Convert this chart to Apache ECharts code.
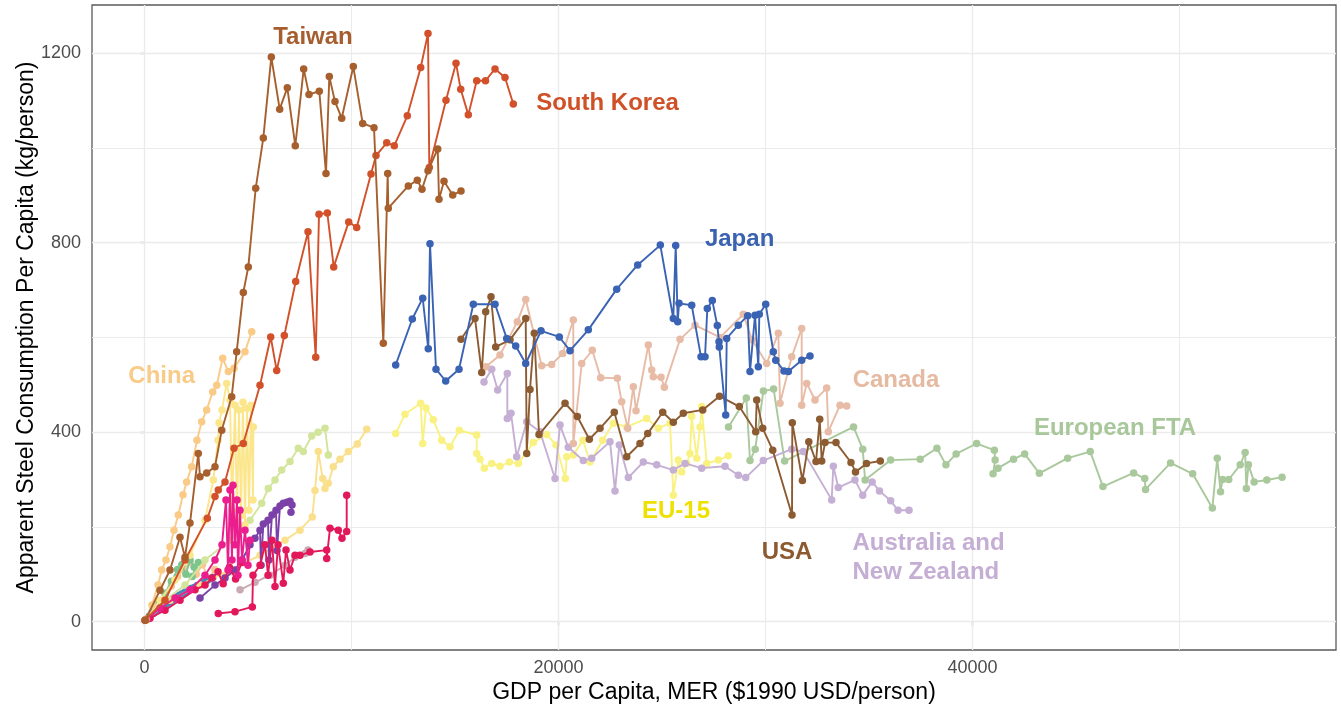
<!DOCTYPE html>
<html>
<head>
<meta charset="utf-8">
<title>Apparent Steel Consumption vs GDP per Capita</title>
<script src="https://cdn.jsdelivr.net/npm/echarts@6/dist/echarts.min.js"></script>
<style>
  html, body { margin: 0; padding: 0; background: #ffffff; }
  #chart { width: 1341px; height: 706px; }
</style>
</head>
<body>
<div id="chart"></div>
<script>
// GDP per capita (1990 USD) vs apparent steel use (kg/person), one array per region
const taiwan = [[30,3],[749,66],[1232,109],[1715,178],[1957,136],[2198,208],[2599,355],[2681,306],[3005,314],[3406,327],[3730,404],[4213,475],[4454,570],[4773,695],[5015,749],[5372,915],[5739,1021],[6126,1192],[6531,1082],[6899,1127],[7285,1005],[7691,1167],[7947,1113],[8445,1120],[8768,946],[8928,1151],[9203,1098],[9527,1063],[10087,1172],[10541,1052],[11087,1043],[11537,588],[11749,946],[11778,873],[12744,920],[13179,932],[13406,913],[13696,952],[14165,998],[14227,892],[14469,930],[14889,901],[15290,909]];

const southKorea = [[24,3],[990,45],[1957,130],[3034,218],[3406,264],[3565,278],[3889,295],[4324,366],[4773,376],[5580,499],[6097,601],[6387,530],[6754,604],[7305,718],[7899,823],[8271,558],[8430,860],[8831,863],[9140,749],[9865,844],[10251,832],[10942,945],[11184,984],[11701,1011],[12068,1005],[12696,1068],[13343,1170],[13696,1242],[13759,959],[14565,1101],[15049,1179],[15276,1124],[15643,1070],[16049,1142],[16474,1142],[16933,1167],[17416,1149],[17817,1093]];

const japan = [[12135,542],[12937,639],[13440,683],[13710,576],[13792,798],[14082,533],[14551,508],[15194,533],[15884,670],[16933,670],[17498,598],[17933,582],[18416,545],[19155,614],[20039,601],[20556,572],[21440,616],[22812,702],[23826,753],[24918,795],[25546,640],[25662,794],[25759,633],[25822,672],[26435,668],[26885,559],[27078,559],[27189,661],[27430,678],[27672,625],[27754,591],[27768,580],[28078,436],[28126,598],[28686,626],[29141,646],[29252,528],[29494,647],[29653,538],[29701,649],[30010,670],[30377,570],[30493,552],[30894,529],[31102,528],[31749,552],[32150,561]];

const usa = [[15290,596],[15966,640],[16290,526],[16483,654],[16739,686],[16966,580],[17657,595],[18416,640],[18464,355],[18624,490],[18831,609],[19059,395],[20315,461],[20909,433],[21489,385],[22006,408],[22696,442],[23295,348],[23938,376],[24310,397],[25034,442],[25546,421],[26030,440],[26967,447],[27778,476],[28735,454],[29527,401],[29576,468],[29866,408],[30349,362],[31281,225],[31295,420],[31783,298],[32092,380],[32440,338],[32619,427],[32715,339],[32875,378],[33406,378],[34131,336],[34348,316],[34880,334],[35546,339]];

const canada = [[16498,538],[17174,563],[18010,633],[18416,680],[19189,540],[19672,543],[20204,566],[20715,637],[20715,376],[21121,545],[21633,573],[22039,515],[22841,514],[23054,464],[23344,408],[23614,496],[23745,445],[24338,584],[24503,531],[24580,517],[24952,516],[25112,495],[25870,596],[26595,626],[27803,600],[28928,649],[29349,595],[30058,545],[30619,609],[30701,461],[31266,559],[31749,619],[31749,457],[31991,503],[32392,468],[32957,493],[33034,401],[33600,457],[33923,455]];

const ausNz = [[16401,506],[16773,533],[17063,489],[17527,524],[17527,429],[17706,440],[17981,348],[18464,422],[19107,401],[19832,302],[20073,415],[20474,368],[21198,340],[21604,345],[22488,380],[22730,276],[22938,373],[23372,304],[24097,337],[24744,331],[25546,320],[26111,334],[26918,324],[28044,328],[28686,309],[29044,304],[29894,340],[31266,364],[31826,359],[33198,257],[33276,328],[33517,283],[34320,299],[34697,267],[35151,295],[35508,276],[36045,255],[36402,235],[36933,235]];

const europeanFta = [[28213,411],[29073,472],[29252,340],[29503,364],[29899,487],[30392,491],[30924,339],[34252,411],[34697,364],[34812,299],[36045,341],[37470,343],[38282,366],[38717,331],[39209,354],[40200,376],[41055,362],[41094,341],[40993,312],[41234,324],[41983,343],[42519,354],[43229,313],[44596,345],[45688,359],[46301,285],[47784,314],[48320,302],[48359,279],[49567,335],[50635,312],[51586,240],[51823,345],[51982,274],[52079,300],[52379,300],[52934,331],[53171,357],[53229,281],[53330,331],[53606,295],[54219,299],[54954,305]];

const eu15 = [[12135,397],[12585,438],[13343,461],[13440,376],[13599,451],[13952,426],[14358,383],[14759,369],[15208,404],[16049,394],[16049,355],[16208,343],[16416,324],[16773,334],[17174,328],[17624,337],[18058,334],[18783,378],[19430,395],[19880,373],[20330,302],[20397,348],[20715,352],[21184,383],[21522,337],[22136,383],[22648,419],[23295,411],[24261,429],[24822,408],[25387,419],[25546,267],[25788,341],[25952,316],[26194,334],[26353,355],[26435,433],[26677,345],[26836,411],[26918,454],[27160,334],[27720,341],[28203,350]];

const china = [[72,5],[362,35],[652,77],[831,109],[1039,130],[1232,158],[1425,193],[1633,225],[1860,268],[2039,295],[2280,327],[2536,383],[2763,422],[3005,447],[3295,485],[3488,499],[3778,556],[4048,528],[4324,535],[4855,570],[5179,612]];

// unlabelled regions
const goldA = [[72,3],[749,45],[1473,88],[2198,140],[2923,214],[3324,299],[3551,383],[3600,420],[3744,447],[3971,503],[4131,468],[4227,235],[4372,457],[4469,214],[4565,447],[4662,224],[4758,463],[4855,204],[4952,450],[5048,235],[5145,457],[5242,257],[5260,411]];
const goldB = [[72,3],[1232,45],[2681,77],[4131,109],[5580,140],[6788,172],[7512,193],[8106,221],[8237,277],[8396,359],[8609,302],[8720,281],[8880,292],[9121,327],[9445,343],[9846,359],[10280,375],[10734,406]];
const paleGreen = [[72,3],[990,45],[1957,77],[2923,130],[4131,172],[5097,214],[5662,250],[5981,281],[6304,299],[6628,320],[7029,338],[7430,366],[7672,359],[8078,392],[8382,400],[8720,408],[8880,352]];
const peach = [[200,10],[600,30],[1000,55],[1300,75],[1600,95],[1900,110],[2200,125],[2500,100],[2800,120],[3100,90],[3400,110],[3800,95],[4200,105]];
const steelBlue = [[80,4],[250,12],[420,17],[600,24],[760,28],[900,33],[1050,37],[1200,41],[1350,46],[1500,50],[1650,55],[1800,58],[1950,62],[2100,66],[2250,70],[2400,72],[2550,76],[2700,78],[2850,83],[3000,86],[3150,90],[3300,93]];
const mint = [[150,6],[400,20],[700,40],[1000,60],[1300,85],[1600,110],[1800,120],[2000,100],[2200,130],[2400,115],[2600,125],[2300,95]];
const magenta = [[120,5],[749,28],[1473,50],[2198,67],[2923,98],[3406,130],[3744,162],[3937,257],[4034,109],[4131,278],[4227,130],[4276,288],[4372,162],[4469,257],[4517,98],[4614,235],[4710,130],[4855,193],[5000,119],[5097,172]];
const crimson = [[3565,17],[4372,21],[5208,31],[5242,98],[5580,119],[5822,162],[5967,98],[6160,172],[6304,74],[6450,162],[6706,81],[6836,151],[7029,109],[7271,140],[7512,140],[7995,147],[8802,151],[8802,133],[8961,197],[9363,193],[9541,176],[9768,190],[9768,267]];
const crimsonEarly = [[266,7],[990,24],[1715,45],[2440,67],[2923,77],[3261,92],[3551,105],[3800,80],[4100,115],[4400,90],[4700,125]];
const purple = [[2681,50],[3406,77],[3889,92],[4372,109],[4710,130],[5097,162],[5338,176],[5580,193],[5629,119],[5741,206],[5967,214],[6010,130],[6160,225],[6353,235],[6400,150],[6546,244],[6706,250],[6885,252],[7029,254],[7126,246],[7077,231]];
const mauve = [[4614,67],[5338,83],[6063,98],[6788,119],[7271,136],[7754,144],[7899,151]];

// axis ticks and gridlines
const xTicks = [0, 20000, 40000];
const xMinorGrid = [10000, 30000, 50000];
const yTicks = [0, 400, 800, 1200];
const yMinorGrid = [200, 600, 1000];

// region labels: [text, x, y, colour, align]
const regionLabels = [
  ['Taiwan', 8140, 1234, '#a65e2e', 'center'],
  ['South Korea', 22368, 1095, '#cf5127', 'center'],
  ['Japan', 28749, 808, '#3a62b0', 'center'],
  ['China', 831, 518, '#f9cb88', 'center'],
  ['Canada', 36305, 510, '#e6b9a1', 'center'],
  ['European FTA', 46885, 409, '#a8c79a', 'center'],
  ['EU-15', 25677, 233, '#eee000', 'center'],
  ['USA', 31039, 147, '#8b5a30', 'center'],
  ['Australia and\nNew Zealand', 34203, 135, '#c5aed3', 'left']
];

const regions = [
  [peach, '#f7c892'],
  [mint, '#7cc58f'],
  [steelBlue, '#4a87ba'],
  [goldB, '#fae08c'],
  [paleGreen, '#d3e59b'],
  [goldA, '#fce68c'],
  [mauve, '#c9aab3'],
  [purple, '#7b41a8'],
  [crimsonEarly, '#e2185b'],
  [crimson, '#e2185b'],
  [magenta, '#ea1e8c'],
  [china, '#f9cb87'],
  [eu15, '#f9f283'],
  [europeanFta, '#a9c89c'],
  [ausNz, '#c5afd4'],
  [canada, '#e7bba5'],
  [usa, '#8c5b32'],
  [japan, '#3b63b3'],
  [southKorea, '#d2512a'],
  [taiwan, '#a65f2d']
];

const chart = echarts.init(document.getElementById('chart'), null, { renderer: 'canvas' });

const gridColor = '#ebebeb';
const fontFamily = 'Liberation Sans, Arial, sans-serif';
const series = [];

// background grid drawn as mark lines
series.push({
  type: 'line',
  data: [],
  z: 1,
  silent: true,
  markLine: {
    silent: true,
    symbol: ['none', 'none'],
    label: { show: false },
    animation: false,
    data: [
      ...xTicks.map(v => ({ xAxis: v, lineStyle: { color: gridColor, width: 1.4, type: 'solid' } })),
      ...xMinorGrid.map(v => ({ xAxis: v, lineStyle: { color: gridColor, width: 1.1, type: 'solid' } })),
      ...yTicks.map(v => ({ yAxis: v, lineStyle: { color: gridColor, width: 1.4, type: 'solid' } })),
      ...yMinorGrid.map(v => ({ yAxis: v, lineStyle: { color: gridColor, width: 1.1, type: 'solid' } }))
    ]
  }
});

regions.forEach(([pts, color], i) => {
  series.push({
    type: 'line',
    data: pts,
    z: 3 + i,
    symbol: 'circle',
    symbolSize: 7.5,
    showSymbol: true,
    showAllSymbol: true,
    lineStyle: { color: color, width: 1.9 },
    itemStyle: { color: color },
    emphasis: { disabled: true },
    silent: true
  });
});

series.push({
  type: 'scatter',
  z: 50,
  symbolSize: 0,
  silent: true,
  itemStyle: { opacity: 1 },
  emphasis: { disabled: true },
  data: regionLabels.map(([text, x, y, color, align]) => ({
    value: [x, y],
    itemStyle: { opacity: 1 },
    label: {
      show: true,
      position: 'inside',
      formatter: text,
      color: color,
      opacity: 1,
      align: align,
      fontFamily: fontFamily,
      fontWeight: 'bold',
      fontSize: 24,
      lineHeight: 29
    }
  }))
});

chart.setOption({
  animation: false,
  backgroundColor: '#ffffff',
  grid: {
    left: 92, right: 5, top: 5, bottom: 56,
    outerBoundsMode: 'none',
    containLabel: false,
    show: true,
    borderColor: '#5a5a5a',
    borderWidth: 1.3,
    backgroundColor: '#ffffff'
  },
  xAxis: {
    type: 'value',
    min: -2536,
    max: 57560,
    name: 'GDP per Capita, MER ($1990 USD/person)',
    nameLocation: 'middle',
    nameGap: 31,
    nameMoveOverlap: false,
    nameTextStyle: { fontFamily: fontFamily, fontSize: 23, color: '#000000' },
    axisLine: { show: false },
    splitLine: { show: false },
    axisTick: { show: true, length: 4, lineStyle: { color: '#333333', width: 1.2 }, customValues: xTicks },
    axisLabel: { fontFamily: fontFamily, fontSize: 18, color: '#4d4d4d', margin: 9, customValues: xTicks, formatter: v => String(v) }
  },
  yAxis: {
    type: 'value',
    min: -60,
    max: 1302,
    name: 'Apparent Steel Consumption Per Capita (kg/person)',
    nameLocation: 'middle',
    nameGap: 54,
    nameMoveOverlap: false,
    nameTextStyle: { fontFamily: fontFamily, fontSize: 23, color: '#000000' },
    axisLine: { show: false },
    splitLine: { show: false },
    axisTick: { show: true, length: 4, lineStyle: { color: '#333333', width: 1.2 }, customValues: yTicks },
    axisLabel: { fontFamily: fontFamily, fontSize: 18, color: '#4d4d4d', margin: 11, customValues: yTicks, formatter: v => String(v) }
  },
  series: series
});
</script>
</body>
</html>
